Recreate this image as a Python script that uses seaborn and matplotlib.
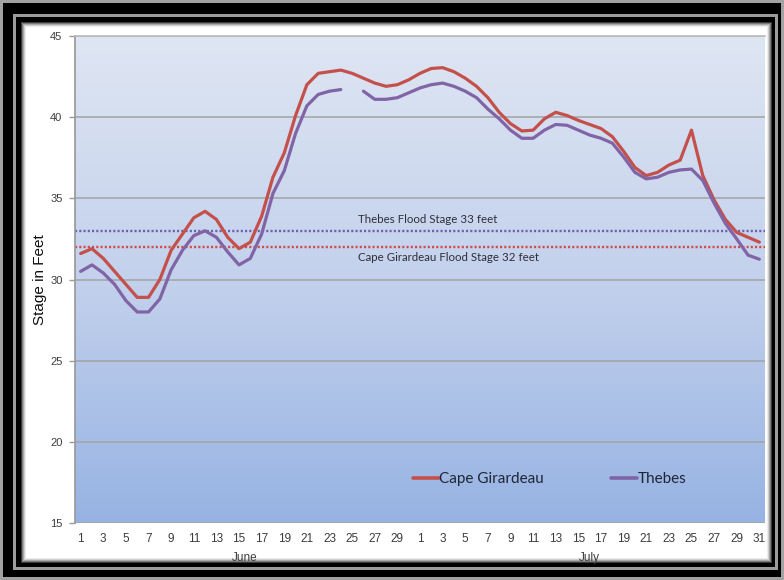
import numpy as np
import pandas as pd
import matplotlib
matplotlib.use("Agg")
import matplotlib.pyplot as plt
from matplotlib.patches import Rectangle
from matplotlib.lines import Line2D
from matplotlib.colors import LinearSegmentedColormap
import seaborn as sns

# River stage readings (feet), June 1-30 and July 1-31
june_days = list(range(1, 31))
july_days = list(range(1, 32))
months = ["June", "July"]

cape_june = [31.6, 31.9, 31.3, 30.5, 29.7, 28.9, 28.9, 30.0, 31.8, 32.8,
             33.8, 34.2, 33.7, 32.6, 31.9, 32.3, 33.9, 36.3, 37.8, 40.1,
             42.0, 42.7, 42.8, 42.9, 42.7, 42.4, 42.1, 41.9, 42.0, 42.3]
cape_july = [42.7, 43.0, 43.05, 42.8, 42.4, 41.9, 41.2, 40.3, 39.6, 39.15,
             39.2, 39.9, 40.3, 40.1, 39.8, 39.55, 39.3, 38.8, 37.9, 36.9,
             36.4, 36.6, 37.05, 37.35, 39.2, 36.4, 34.9, 33.7, 32.9, 32.6, 32.3]

thebes_june = [30.5, 30.9, 30.4, 29.7, 28.7, 28.0, 28.0, 28.8, 30.6, 31.8,
               32.7, 33.0, 32.6, 31.7, 30.9, 31.3, 32.8, 35.3, 36.7, 39.0,
               40.7, 41.4, 41.6, 41.7, np.nan, 41.6, 41.1, 41.1, 41.2, 41.5]
thebes_july = [41.8, 42.0, 42.1, 41.9, 41.6, 41.2, 40.5, 39.9, 39.2, 38.7,
               38.7, 39.2, 39.55, 39.5, 39.2, 38.9, 38.7, 38.4, 37.55, 36.6,
               36.2, 36.3, 36.6, 36.75, 36.8, 36.1, 34.7, 33.45, 32.5, 31.5, 31.25]

stations = ["Cape Girardeau", "Thebes"]
flood_stages = [32, 33]
flood_labels = ["Cape Girardeau Flood Stage 32 feet", "Thebes Flood Stage 33 feet"]
line_colors = ["#c4504c", "#8064a6"]
flood_colors = ["#d24a4a", "#6e5eae"]

# Long-form table: one row per day and station, split into segments at gaps
day_labels = june_days + july_days
pos = np.arange(len(day_labels))
frames = []
for name, values in zip(stations, [cape_june + cape_july, thebes_june + thebes_july]):
    v = np.array(values, dtype=float)
    frames.append(pd.DataFrame({
        "pos": pos, "stage": v, "station": name,
        "segment": np.cumsum(np.isnan(v)),
    }))
df = pd.concat(frames).dropna(subset=["stage"])

sns.set_theme(style="white")
plt.rcParams["font.family"] = ["Liberation Sans", "DejaVu Sans"]

W, H = 784, 580
fig = plt.figure(figsize=(W / 100, H / 100), dpi=100, facecolor="#a2a2a2")


def box(x0, y0, x1, y1, **kw):
    fig.add_artist(Rectangle((x0 / W, 1 - y1 / H), (x1 - x0) / W, (y1 - y0) / H,
                             transform=fig.transFigure, zorder=kw.pop("zorder", -10), **kw))


# Picture frame around the chart
box(3, 3, 781, 577, facecolor="black", edgecolor="none")
box(13, 14, 778, 570, facecolor="#9c9c9c", edgecolor="none", zorder=-9)
box(16, 17, 775, 567, facecolor="black", edgecolor="none", zorder=-8)
box(21, 22, 771, 562, facecolor="white", edgecolor="none", zorder=-7)
for i, c in enumerate(["#3a3a3a", "#7a7a7a", "#a8a8a8", "#cfcfcf", "#ececec"]):
    box(21 + i, 22 + i, 771 - i, 562 - i, facecolor="none", edgecolor=c,
        linewidth=0.75, zorder=-6)

ax = fig.add_axes([75 / W, (H - 523) / H, 690 / W, 487 / H])

# Blue gradient plot background
cmap = LinearSegmentedColormap.from_list("bg", ["#dfe6f3", "#c3d1ec", "#97b3e3"])
grad = np.linspace(0, 1, 256).reshape(-1, 1)
ax.imshow(grad, cmap=cmap, extent=(0, 1, 0, 1), transform=ax.transAxes,
          aspect="auto", origin="upper", zorder=0)

sns.lineplot(data=df, x="pos", y="stage", hue="station", units="segment",
             estimator=None, palette=dict(zip(stations, line_colors)),
             linewidth=2.3, legend=False, ax=ax, zorder=3)

for stage, color in zip(flood_stages, flood_colors):
    ax.axhline(stage, color=color, linewidth=1.7, linestyle=(0, (0.9, 0.9)), zorder=2)

ax.text(24.55, flood_stages[1] + 0.72, flood_labels[1], fontsize=8.3,
        family=["Lato", "DejaVu Sans"], color="#2e2e3a", va="center", ha="left", zorder=4)
ax.text(24.55, flood_stages[0] - 0.62, flood_labels[0], fontsize=8.3,
        family=["Lato", "DejaVu Sans"], color="#2e2e3a", va="center", ha="left", zorder=4)

ax.set_xlim(-0.5, len(day_labels) - 0.5)
ax.set_ylim(15, 45)
ax.set_yticks(range(15, 46, 5))
ax.yaxis.grid(True, color="#a3a3a3", linewidth=1.1)
ax.set_axisbelow(True)

ticks = pos[::2]
ax.set_xticks(ticks)
ax.set_xticklabels([str(day_labels[i]) for i in ticks])
ax.tick_params(axis="x", length=0, pad=7, labelsize=8.5, labelcolor="#3c3c3c")
ax.tick_params(axis="y", length=4, width=1, color="#9a9a9a", direction="out",
               pad=5, labelsize=8, labelcolor="#3c3c3c", left=True)

for side in ["right", "bottom"]:
    ax.spines[side].set_visible(False)
ax.spines["top"].set_color("#bdbdbd")
ax.spines["left"].set_color("#9a9a9a")

ax.set_xlabel("")
ax.set_ylabel("Stage in Feet", fontsize=11, color="#101010")
ax.yaxis.set_label_coords((47 - 75) / 690, 0.5)

# Month captions under the day numbers
month_spans = [(0, len(june_days) - 1), (len(june_days), len(day_labels) - 1)]
for name, (a, b) in zip(months, month_spans):
    ax.text((a + b) / 2, (523 - 558) / 487, name, transform=ax.get_xaxis_transform(),
            ha="center", va="center", fontsize=8.5, color="#3c3c3c")

handles = [Line2D([], [], color=c, linewidth=2.6) for c in line_colors]
ax.legend(handles, stations, loc="center", bbox_to_anchor=(0.688, 0.0903),
          ncol=2, frameon=False, handlelength=1.65, handletextpad=0.05,
          columnspacing=4.4, prop={"family": ["Lato", "DejaVu Sans"], "size": 11},
          labelcolor="#1e2636")

fig.savefig("out.png", dpi=100, facecolor=fig.get_facecolor())
